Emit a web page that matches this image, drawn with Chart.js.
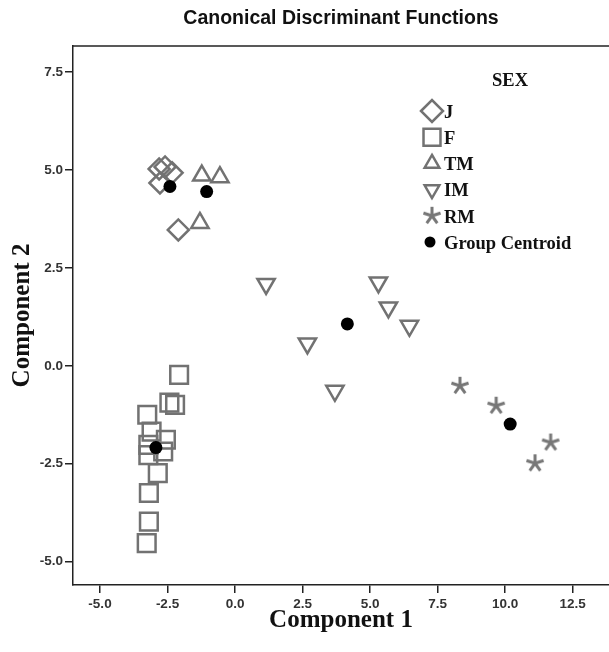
<!DOCTYPE html>
<html>
<head>
<meta charset="utf-8">
<script src="https://cdn.jsdelivr.net/npm/chart.js@4/dist/chart.umd.min.js"></script>
<style>
  html, body { margin: 0; padding: 0; background: #fff; overflow: hidden; }
  canvas { display: block; }
</style>
</head>
<body>
<canvas id="discChart" width="609" height="652"></canvas>
<script>
// Canonical discriminant scores
const jX = [-2.81, -2.59, -2.33, -2.78, -2.10];
const jY = [5.03, 5.08, 4.93, 4.67, 3.47];

const fX = [-2.07, -2.43, -2.22, -3.25, -3.09, -2.56, -3.21, -2.66, -3.21, -2.86, -3.19, -3.19, -3.27];
const fY = [-0.23, -0.94, -1.00, -1.25, -1.68, -1.89, -2.02, -2.19, -2.28, -2.74, -3.25, -3.98, -4.53];

const tmX = [-1.23, -0.56, -1.30];
const tmY = [4.86, 4.82, 3.65];

const imX = [1.15, 5.31, 5.68, 6.46, 2.68, 3.70];
const imY = [2.09, 2.13, 1.49, 1.02, 0.57, -0.64];

const rmX = [8.33, 9.67, 11.69, 11.11];
const rmY = [-0.51, -1.02, -1.96, -2.49];

// group centroids: J, F, TM, IM, RM
const centX = [-2.41, -2.93, -1.05, 4.16, 10.19];
const centY = [4.58, -2.09, 4.45, 1.07, -1.49];

const xTicks = [-5, -2.5, 0, 2.5, 5, 7.5, 10, 12.5];
const yTicks = [-5, -2.5, 0, 2.5, 5, 7.5];

const groupLabels = ['J', 'F', 'TM', 'IM', 'RM', 'Group Centroid'];

const markGray = '#727272';
const clear = 'rgba(0,0,0,0)';

// helper to zip x/y arrays into points
function pts(xs, ys) {
    return xs.map((x, i) => ({ x: x, y: ys[i] }));
}

// five-armed asterisk used for RM
function makeStar(size, color, lw) {
    const c = document.createElement('canvas');
    c.width = size; c.height = size;
    const g = c.getContext('2d');
    const m = size / 2, r = size / 2 - 1;
    g.strokeStyle = color;
    g.lineWidth = lw;
    g.beginPath();
    for (let k = 0; k < 5; k++) {
        const a = -Math.PI / 2 + k * 2 * Math.PI / 5;
        g.moveTo(m, m);
        g.lineTo(m + r * Math.cos(a), m + r * Math.sin(a));
    }
    g.stroke();
    return c;
}
const starImg = makeStar(20, '#777', 3);

const datasets = [
    { label: 'J', data: pts(jX, jY), pointStyle: 'rectRot', pointRadius: 10.5, borderWidth: 2.5 },
    { label: 'F', data: pts(fX, fY), pointStyle: 'rect', pointRadius: 12.5, borderWidth: 2.5 },
    { label: 'TM', data: pts(tmX, tmY), pointStyle: 'triangle', pointRadius: 10, borderWidth: 2.5 },
    { label: 'IM', data: pts(imX, imY), pointStyle: 'triangle', pointRotation: 180, pointRadius: 10, borderWidth: 2.5 },
    { label: 'RM', data: pts(rmX, rmY), pointStyle: starImg, pointRadius: 10 },
].map(d => Object.assign({
    borderColor: markGray,
    backgroundColor: clear,
    pointBorderColor: markGray,
    pointBackgroundColor: clear,
    order: 1
}, d));

datasets.push({
    label: 'Group Centroid',
    data: pts(centX, centY),
    pointStyle: 'circle',
    pointRadius: 6.5,
    pointBackgroundColor: '#000',
    pointBorderColor: '#000',
    borderWidth: 0,
    order: 0
});

// top frame line + legend inside the plot
const framePlugin = {
    id: 'frameAndLegend',
    afterDraw(chart) {
        const { ctx, chartArea } = chart;
        ctx.save();
        ctx.strokeStyle = '#222';
        ctx.lineWidth = 1.5;
        ctx.beginPath();
        ctx.moveTo(chartArea.left, chartArea.top);
        ctx.lineTo(chartArea.right, chartArea.top);
        ctx.stroke();

        // legend
        ctx.fillStyle = '#111';
        ctx.font = 'bold 18.5px "Liberation Serif", "Times New Roman", serif';
        ctx.textAlign = 'center';
        ctx.textBaseline = 'middle';
        ctx.fillText('SEX', 510, 81);

        const legX = 432, textX = 444, legY0 = 111, step = 26.2;
        const styles = [
            { pointStyle: 'rectRot', radius: 11, rotation: 0, borderWidth: 2.5 },
            { pointStyle: 'rect', radius: 12, rotation: 0, borderWidth: 2.5 },
            { pointStyle: 'triangle', radius: 8.5, rotation: 0, borderWidth: 2.5 },
            { pointStyle: 'triangle', radius: 8.5, rotation: 180, borderWidth: 2.5 },
            { pointStyle: starImg, radius: 10, rotation: 0, borderWidth: 0 },
            { pointStyle: 'circle', radius: 5.5, rotation: 0, borderWidth: 0 }
        ];
        styles.forEach((st, i) => {
            const y = legY0 + i * step;
            ctx.strokeStyle = markGray;
            ctx.lineWidth = st.borderWidth;
            ctx.fillStyle = i === 5 ? '#000' : clear;
            Chart.helpers.drawPoint(ctx, st, i === 5 ? 430 : legX, y);
            ctx.fillStyle = '#111';
            ctx.textAlign = 'left';
            ctx.textBaseline = 'middle';
            ctx.fillText(groupLabels[i], textX, y + 2);
        });
        ctx.restore();
    }
};

const tickFont = { family: '"Liberation Sans", Arial, sans-serif', size: 13.5, weight: 'bold' };
const titleFont = { family: '"Liberation Serif", "Times New Roman", serif', size: 25, weight: 'bold', lineHeight: 1.2 };

new Chart(document.getElementById('discChart'), {
    type: 'scatter',
    data: { datasets: datasets },
    options: {
        responsive: false,
        animation: false,
        devicePixelRatio: 1,
        layout: { padding: 0, autoPadding: false },
        plugins: {
            legend: { display: false },
            tooltip: { enabled: false },
            title: {
                display: true,
                fullSize: false,
                text: 'Canonical Discriminant Functions',
                color: '#111',
                font: { family: '"Liberation Sans", Arial, sans-serif', size: 19.5, weight: 'bold', lineHeight: 1.2 },
                padding: { top: 7, bottom: 15.6 }
            }
        },
        scales: {
            x: {
                type: 'linear',
                min: -6.0,
                max: 13.85,
                afterFit: s => { s.height = 67; s.paddingLeft = 0; s.paddingRight = 0; },
                afterBuildTicks: s => { s.ticks = xTicks.map(v => ({ value: v })); },
                grid: { display: true, drawOnChartArea: false, drawTicks: true, tickLength: 8, color: '#222', lineWidth: 1.5 },
                border: { display: true, color: '#222', width: 1.5 },
                ticks: { font: tickFont, color: '#333', padding: 3, maxRotation: 0, callback: v => v.toFixed(1) },
                title: { display: true, text: 'Component 1', color: '#111', font: titleFont, padding: { top: 0, bottom: 16 } }
            },
            y: {
                type: 'linear',
                min: -5.6,
                max: 8.17,
                afterFit: s => { s.width = 73; s.paddingTop = 0; s.paddingBottom = 0; },
                afterBuildTicks: s => { s.ticks = yTicks.map(v => ({ value: v })); },
                grid: { display: true, drawOnChartArea: false, drawTicks: true, tickLength: 8, color: '#222', lineWidth: 1.5 },
                border: { display: true, color: '#222', width: 1.5 },
                ticks: { font: tickFont, color: '#333', padding: 2, callback: v => v.toFixed(1) },
                title: { display: true, text: 'Component 2', color: '#111', font: titleFont, padding: { top: 8, bottom: 0 } }
            }
        }
    },
    plugins: [framePlugin]
});
</script>
</body>
</html>
